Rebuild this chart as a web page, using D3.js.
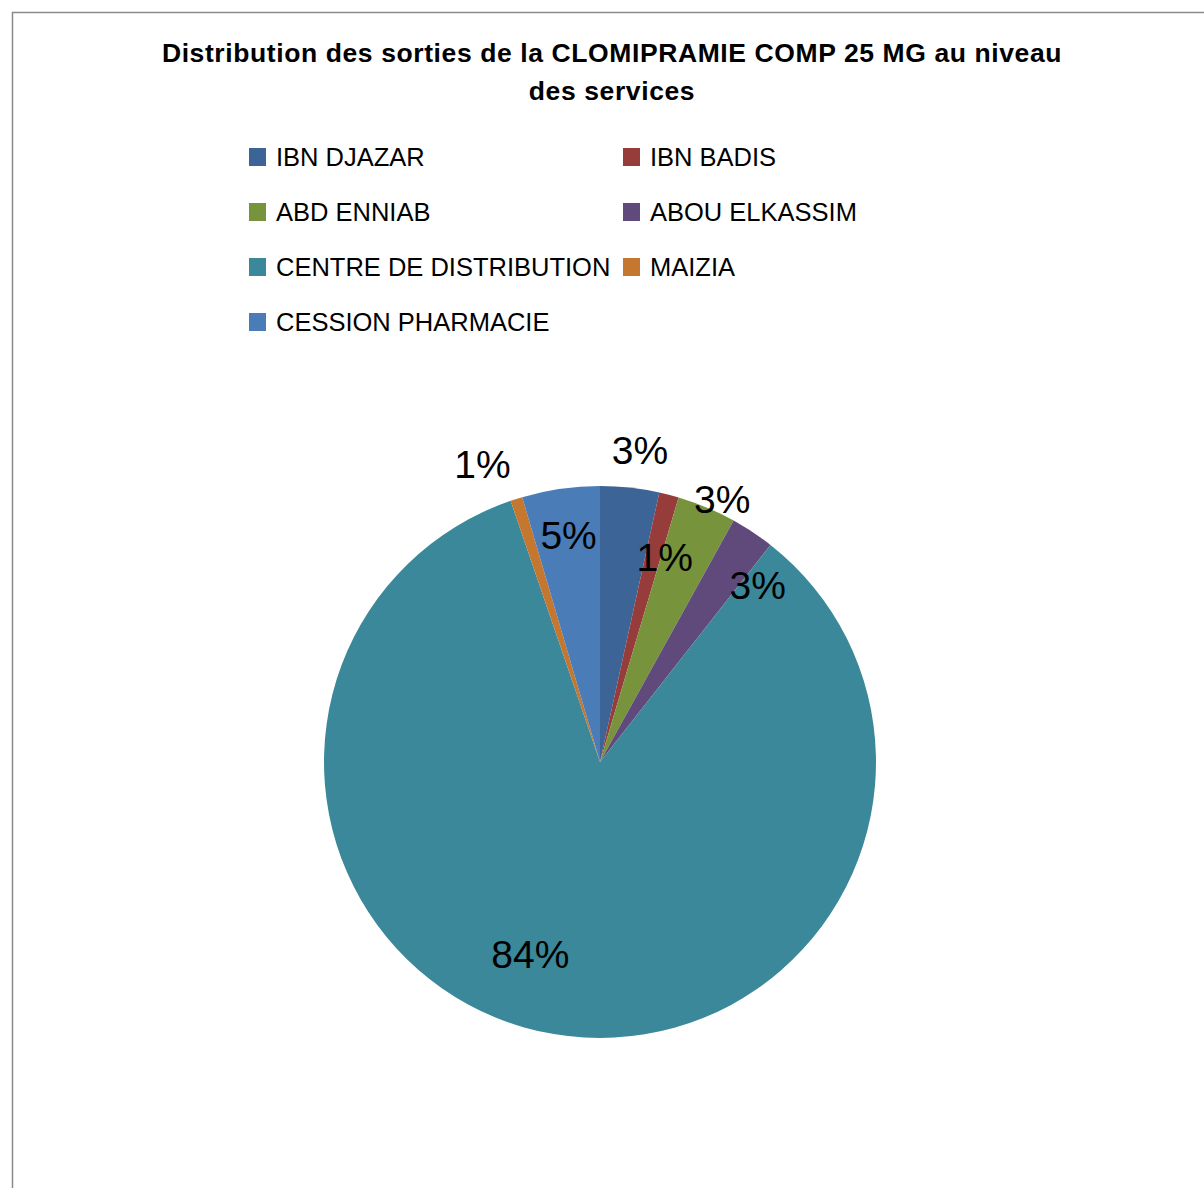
<!DOCTYPE html>
<html>
<head>
<meta charset="utf-8">
<script src="https://cdn.jsdelivr.net/npm/d3@7"></script>
<style>
  html, body { margin: 0; padding: 0; background: #ffffff; }
  svg { display: block; }
</style>
</head>
<body>
<svg id="chart" width="1204" height="1188"></svg>
<script>
// Services and the quantities dispensed to each
const services = [
  "IBN DJAZAR",
  "IBN BADIS",
  "ABD ENNIAB",
  "ABOU ELKASSIM",
  "CENTRE DE DISTRIBUTION",
  "MAIZIA",
  "CESSION PHARMACIE"
];
const sorties = [69, 23, 69, 51, 1684, 14, 91];
const sliceColors = ["#3c6496", "#963c3a", "#77933c", "#604a7b", "#3a8899", "#c5762f", "#4a7db8"];

// Label placement per slice: radius as a share of the pie radius, and angular nudge (degrees)
const labelRadius = [1.14, 0.78, 1.05, 0.86, 0.74, 1.16, 0.83];
const labelNudge  = [1.1, 3.0, 2.2, 8.1, 10.3, -3.9, 0.3];

const titleLines = [
  "Distribution des sorties de la CLOMIPRAMIE COMP 25 MG au niveau",
  "des services"
];

const svg = d3.select("#chart");
const W = 1204, H = 1188;

// chart frame
svg.append("rect")
  .attr("x", 12.5).attr("y", 12.5)
  .attr("width", W + 10).attr("height", H + 10)
  .attr("fill", "#ffffff")
  .attr("stroke", "#8a8a8a")
  .attr("stroke-width", 1.5);

// title
const title = svg.append("text")
  .attr("text-anchor", "middle")
  .attr("font-family", "'Liberation Sans', Arial, sans-serif")
  .attr("font-weight", "bold")
  .attr("font-size", 26.5)
  .attr("letter-spacing", 0.6)
  .attr("fill", "#000");
titleLines.forEach((t, i) => {
  title.append("tspan").attr("x", 612).attr("y", 62 + i * 38).text(t);
});

// legend: two columns
const color = d3.scaleOrdinal().domain(services).range(sliceColors);
const colX = d3.scalePoint().domain([0, 1]).range([249, 623]);
const rowY = d3.scaleLinear().domain([0, 1]).range([148, 203]);

const legend = svg.append("g");
services.forEach((s, i) => {
  const g = legend.append("g")
    .attr("transform", `translate(${colX(i % 2)},${rowY(Math.floor(i / 2))})`);
  g.append("rect").attr("width", 17).attr("height", 18).attr("fill", color(s));
  g.append("text")
    .attr("x", 27).attr("y", 18)
    .attr("font-family", "'Liberation Sans', Arial, sans-serif")
    .attr("font-size", 25.5)
    .attr("fill", "#000")
    .text(s);
});

// pie
const cx = 600, cy = 762, R = 276;
const data = services.map((s, i) => ({ name: s, value: sorties[i] }));
const total = d3.sum(sorties);
const pie = d3.pie().value(d => d.value).sort(null);
const arcs = pie(data);
const arc = d3.arc().innerRadius(0).outerRadius(R);

const gPie = svg.append("g").attr("transform", `translate(${cx},${cy})`);
gPie.selectAll("path")
  .data(arcs)
  .join("path")
  .attr("d", arc)
  .attr("fill", d => color(d.data.name));

// percentage labels
const fmt = v => Math.round(v / total * 100) + "%";
gPie.selectAll("text.pct")
  .data(arcs)
  .join("text")
  .attr("class", "pct")
  .attr("transform", (d, i) => {
    const a = (d.startAngle + d.endAngle) / 2 + labelNudge[i] * Math.PI / 180;
    const r = R * labelRadius[i];
    return `translate(${r * Math.sin(a)},${-r * Math.cos(a)})`;
  })
  .attr("text-anchor", "middle")
  .attr("dy", "0.36em")
  .attr("font-family", "'Liberation Sans', Arial, sans-serif")
  .attr("font-size", 39)
  .attr("fill", "#000")
  .text(d => fmt(d.value));
</script>
</body>
</html>
